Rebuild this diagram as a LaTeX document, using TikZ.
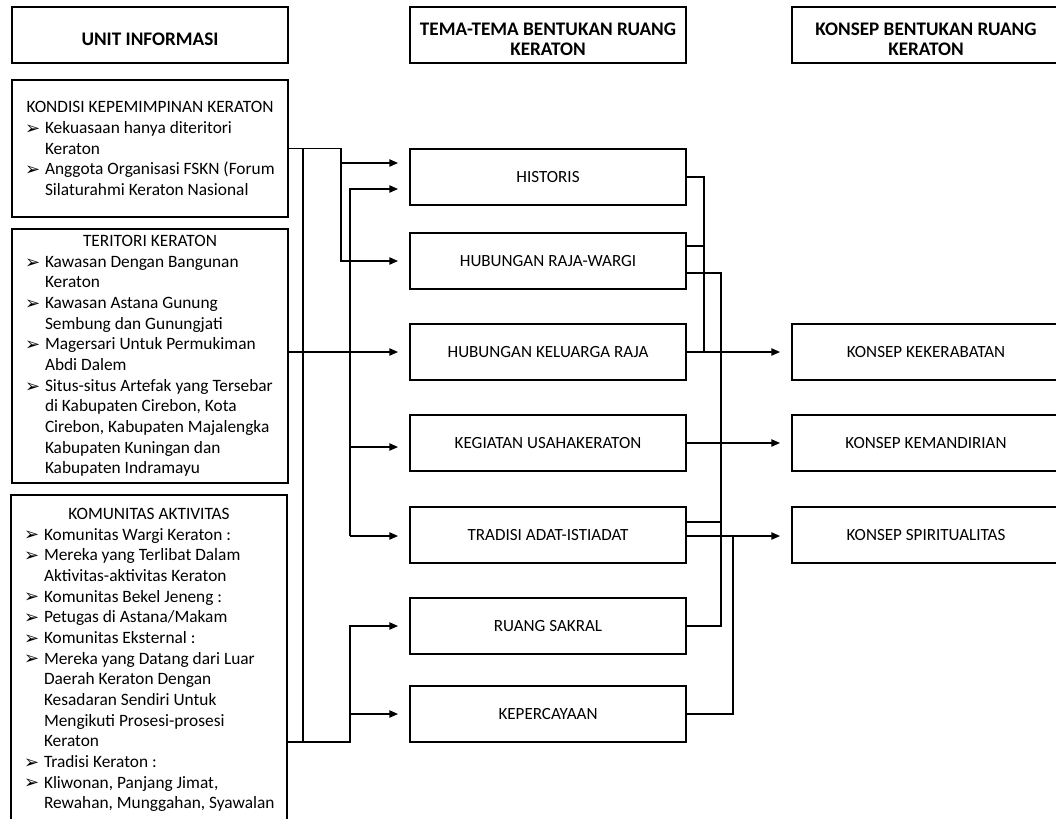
\documentclass[tikz,border=0pt]{standalone}
\usepackage{fontspec}
\setmainfont{Carlito}
\newfontfamily\dejavu{DejaVu Sans}
\usetikzlibrary{arrows.meta}
\newlength\px \setlength\px{0.75pt}
\newcommand\hdl[1]{\hspace*{-33\px}\makebox[276\px]{#1}\par}
\newcommand\bul[1]{\leavevmode\llap{\makebox[20\px][l]{\raisebox{-0.6pt}{\dejavu\fontsize{13.5}{14}\selectfont ➢}}}\mbox{#1}\par}
\newcommand\cnt[1]{\mbox{#1}\par}
\newcommand\lbox[1]{\parbox{276\px}{\fontsize{13}{15.5}\selectfont\setlength\parindent{0pt}\setlength\leftskip{33\px}#1}}
\tikzset{
  lb/.style={draw, line width=1pt, inner sep=0pt, minimum width=276\px},
  hb/.style={draw, line width=1pt, minimum width=276\px, minimum height=56\px},
  ht/.style={align=center, inner sep=0pt, font=\fontsize{14.4}{15}\selectfont\bfseries},
  mb/.style={draw, line width=1pt, minimum width=276\px, minimum height=56\px, font=\fontsize{12.8}{14}\selectfont},
  kb/.style={draw, line width=1pt, minimum width=268\px, minimum height=56\px, font=\fontsize{12.8}{14}\selectfont},
  ln/.style={line width=1pt},
  arr/.style={line width=1pt, -{Triangle[length=6.5pt,width=5.5pt]}, shorten >=8.5pt}
}
\begin{document}
\begin{tikzpicture}[x=0.75pt, y=-0.75pt]
\useasboundingbox (0,0) rectangle (1056,818);
\clip (0,0) rectangle (1056,818);
\fill[white] (0,0) rectangle (1056,818);
% headers
\node[hb] (h1) at (150,35) {};
\node[ht] (h1t) at (150,39) {UNIT INFORMASI};
\node[hb] (h2) at (548,35) {};
\node[ht] (h2t) at (548,39) {TEMA-TEMA BENTUKAN RUANG\\KERATON};
\node[hb, minimum width=268\px] (h3) at (926,35) {};
\node[ht] (h3t) at (926,39) {KONSEP BENTUKAN RUANG\\KERATON};
% left boxes
\node[lb, minimum height=137\px] (kondisi) at (150,148.5) {\lbox{%
\hdl{KONDISI KEPEMIMPINAN KERATON}
\bul{Kekuasaan hanya diteritori}
\cnt{Keraton}
\bul{Anggota Organisasi FSKN (Forum}
\cnt{Silaturahmi Keraton Nasional}}};
\node[lb, minimum height=254\px] (teritori) at (150,356) {\lbox{%
\hdl{TERITORI KERATON}
\bul{Kawasan Dengan Bangunan}
\cnt{Keraton}
\bul{Kawasan Astana Gunung}
\cnt{Sembung dan Gunungjati}
\bul{Magersari Untuk Permukiman}
\cnt{Abdi Dalem}
\bul{Situs-situs Artefak yang Tersebar}
\cnt{di Kabupaten Cirebon, Kota}
\cnt{Cirebon, Kabupaten Majalengka}
\cnt{Kabupaten Kuningan dan}
\cnt{Kabupaten Indramayu}}};
\node[lb, minimum height=330\px] (komunitas) at (149,660) {\lbox{%
\hdl{KOMUNITAS AKTIVITAS}
\bul{Komunitas Wargi Keraton :}
\bul{Mereka yang Terlibat Dalam}
\cnt{Aktivitas-aktivitas Keraton}
\bul{Komunitas Bekel Jeneng :}
\bul{Petugas di Astana/Makam}
\bul{Komunitas Eksternal :}
\bul{Mereka yang Datang dari Luar}
\cnt{Daerah Keraton Dengan}
\cnt{Kesadaran Sendiri Untuk}
\cnt{Mengikuti Prosesi-prosesi}
\cnt{Keraton}
\bul{Tradisi Keraton :}
\bul{Kliwonan, Panjang Jimat,}
\cnt{Rewahan, Munggahan, Syawalan}}};
% middle boxes
\node[mb] (historis) at (548,177) {HISTORIS};
\node[mb] (wargi) at (548,261) {HUBUNGAN RAJA-WARGI};
\node[mb] (keluarga) at (548,352) {HUBUNGAN KELUARGA RAJA};
\node[mb] (kegiatan) at (548,443) {KEGIATAN USAHAKERATON};
\node[mb] (tradisi) at (548,535) {TRADISI ADAT-ISTIADAT};
\node[mb] (sakral) at (548,626) {RUANG SAKRAL};
\node[mb] (percaya) at (548,714) {KEPERCAYAAN};
% right boxes
\node[kb] (kerabat) at (926,352) {KONSEP KEKERABATAN};
\node[kb] (mandiri) at (926,443) {KONSEP KEMANDIRIAN};
\node[kb] (spirit) at (926,535) {KONSEP SPIRITUALITAS};
% left connectors
\coordinate (a1) at (341,261);
\coordinate (a2) at (303,742);
\coordinate (b1) at (350,189);
\coordinate (b2) at (350,536);
\coordinate (c1) at (350,626);
\draw[arr] (kondisi.east) -| (a1) -- (wargi.west);
\draw[arr] (a1 |- 0,163) -- (historis.west |- 0,163);
\draw[ln] (a2 |- kondisi.east) -- (a2);
\draw[arr] (teritori.east |- 0,352) -- (keluarga.west);
\draw[arr] (b2) -- (b1) -- (historis.west |- b1);
\draw[arr] (b2 |- 0,447) -- (kegiatan.west |- 0,447);
\draw[arr] (b2) -- (tradisi.west |- b2);
\draw[arr] (komunitas.east |- a2) -| (c1) -- (sakral.west);
\draw[arr] (c1 |- percaya.west) -- (percaya.west);
% right connectors
\coordinate (r1) at (704,352);
\coordinate (r2) at (721,626);
\coordinate (r3) at (733,536);
\draw[ln] (historis.east) -| (r1);
\draw[ln] (wargi.east |- 0,246) -- (r1 |- 0,246);
\draw[ln] (wargi.east |- 0,273) -| (r2) -- (sakral.east);
\draw[arr] (keluarga.east) -- (kerabat.west);
\draw[arr] (kegiatan.east) -- (mandiri.west);
\draw[ln] (tradisi.east |- 0,522) -- (r2 |- 0,522);
\draw[arr] (tradisi.east |- r3) -- (spirit.west |- r3);
\draw[ln] (percaya.east) -| (r3);
\end{tikzpicture}
\end{document}
